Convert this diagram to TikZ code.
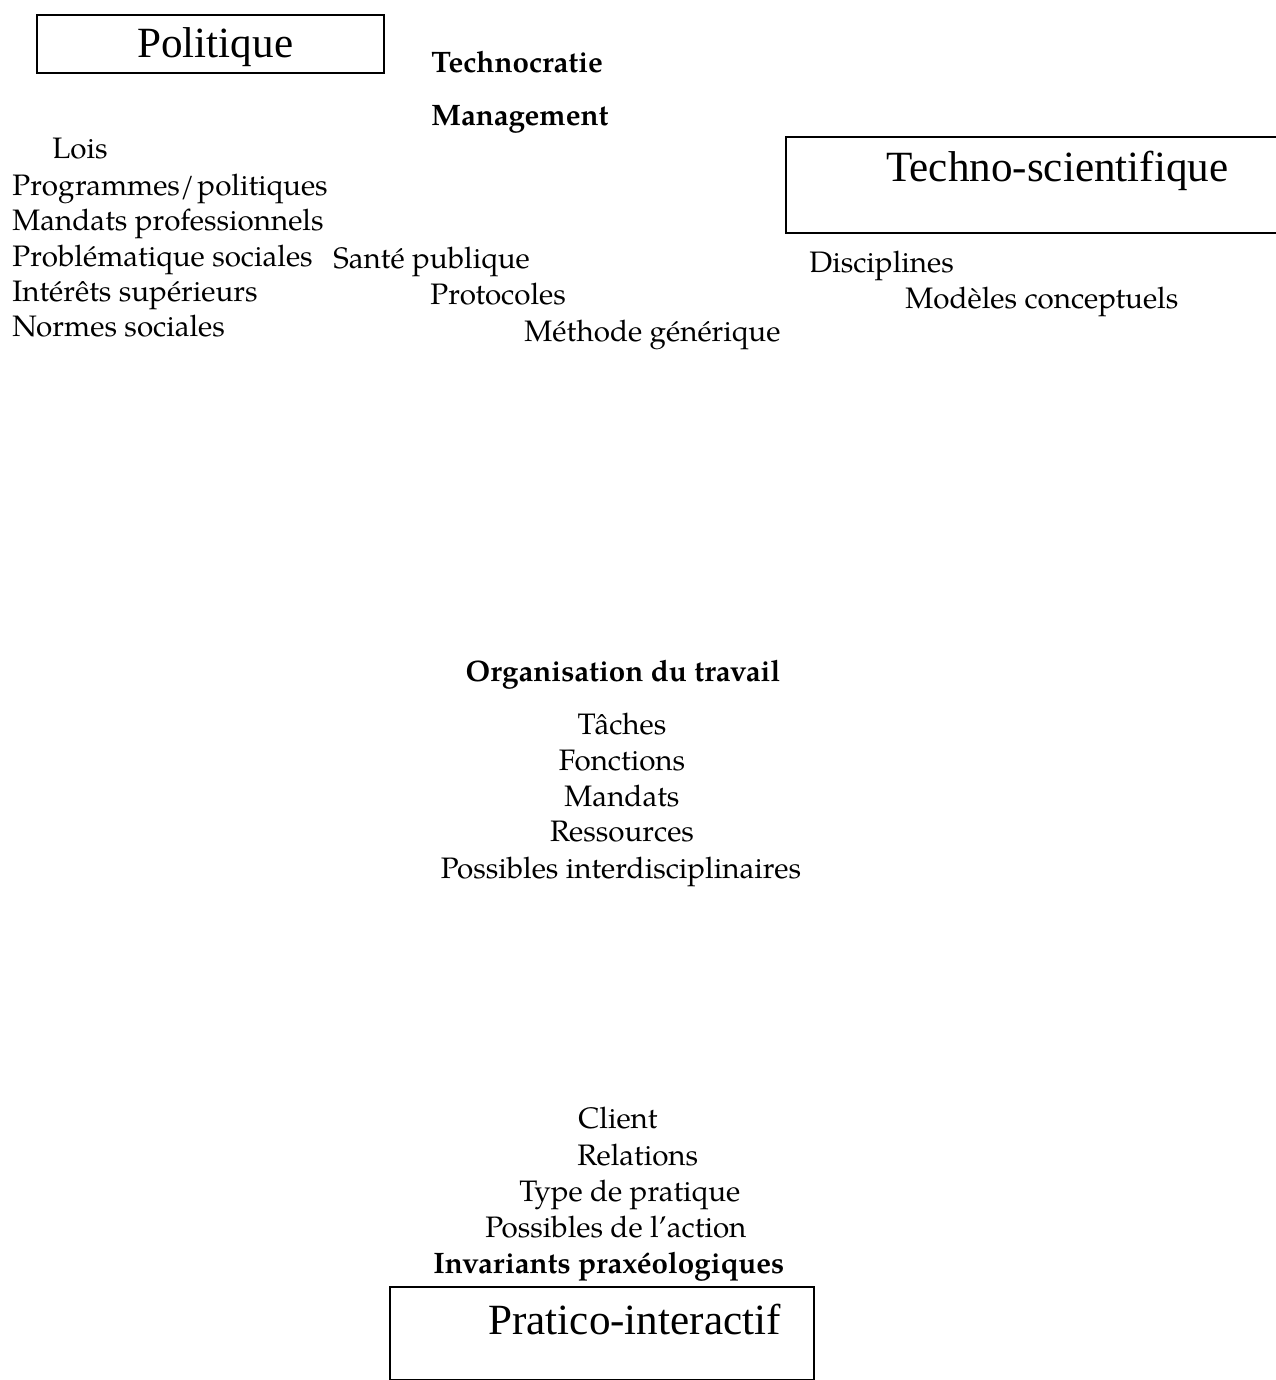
\documentclass[tikz,border=0pt]{standalone}
\usepackage{fontspec}
\setmainfont{TeX Gyre Pagella}
\newfontfamily\titlefont{Liberation Serif}
\newcommand\bodysize{\fontsize{14.2bp}{17bp}\selectfont}
\begin{document}
\begin{tikzpicture}[x=0.48bp,y=-0.48bp,
  item/.style={inner sep=0pt,anchor=base west,font=\bodysize},
  citem/.style={inner sep=0pt,anchor=base,font=\bodysize},
  bitem/.style={item,font=\bodysize\bfseries},
  cbitem/.style={citem,font=\bodysize\bfseries},
  title/.style={inner sep=0pt,anchor=base west,font=\titlefont\fontsize{20.7bp}{24bp}\selectfont},
  pole/.style={draw,line width=1bp,inner sep=0pt}]
\useasboundingbox (0,0) rectangle (1275,1380);

% the three poles
\node[pole,minimum width=347*0.48bp,minimum height=58*0.48bp,anchor=north west] (polbox) at (36,14) {};
\node[title] (pol) at (137,58) {Politique};
\node[pole,minimum width=520*0.48bp,minimum height=96*0.48bp,anchor=north west] (techbox) at (785,136) {};
\node[title] (tech) at (886,182) {Techno-scientifique};
\node[pole,minimum width=424*0.48bp,minimum height=93*0.48bp,anchor=north west] (pratbox) at (389,1286) {};
\node[title] (prat) at (488,1334) {Pratico-interactif};

% political pole
\node[bitem] (technocratie) at (431,73) {Technocratie};
\node[bitem] (management) at (431,126) {Management};
\node[item] (lois) at (52,159) {Lois};
\node[item] (programmes) at (12,196) {Programmes/\kern1.5bp politiques};
\node[item] (mandatspro) at (12,231) {Mandats professionnels};
\node[item] (problematique) at (12,267) {Problématique sociales};
\node[item] (sante) at (333,269) {Santé publique};
\node[item] (interets) at (12,302) {Intérêts supérieurs};
\node[item] (protocoles) at (430,305) {Protocoles};
\node[item] (normes) at (12,337) {Normes sociales};
\node[item] (methode) at (524,342) {Méthode générique};

% techno-scientific pole
\node[item] (disciplines) at (809,273) {Disciplines};
\node[item] (modeles) at (905,309) {Modèles conceptuels};

% work organisation
\node[cbitem] (organisation) at (623,681) {Organisation du travail};
\node[citem] (taches) at (622,734) {Tâches};
\node[citem] (fonctions) at (622,770) {Fonctions};
\node[citem] (mandats) at (622,806) {Mandats};
\node[citem] (ressources) at (622,841) {Ressources};
\node[citem] (interdisc) at (621,878) {Possibles interdisciplinaires};

% practical-interactive pole
\node[item] (client) at (578,1128) {Client};
\node[item] (relations) at (577,1165) {Relations};
\node[item] (typepratique) at (519,1201) {Type de pratique};
\node[item] (possaction) at (485,1237) {Possibles de l’action};
\node[bitem] (invariants) at (433,1273) {Invariants praxéologiques};
\end{tikzpicture}
\end{document}
